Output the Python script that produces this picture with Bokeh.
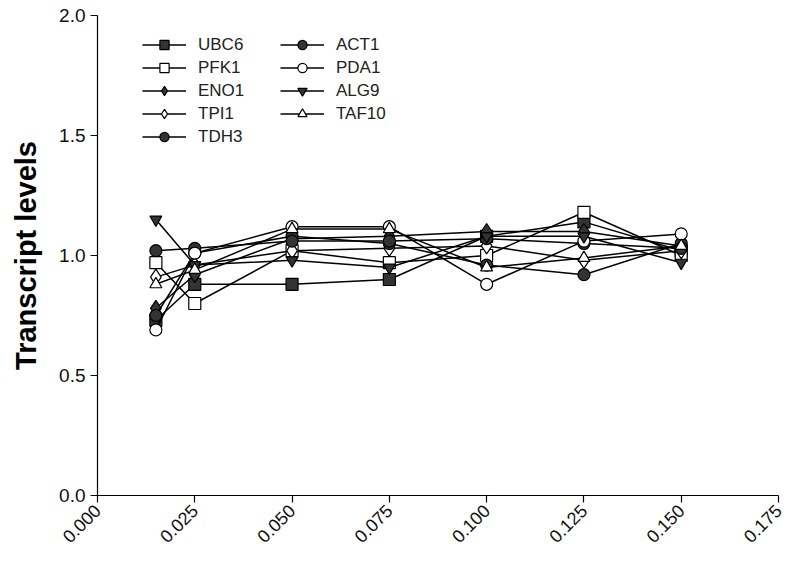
import math
from bokeh.plotting import figure
from bokeh.models import Range1d, FixedTicker, NumeralTickFormatter, Legend, LegendItem
from bokeh.embed import file_html
from bokeh.resources import INLINE

x = [0.015, 0.025, 0.05, 0.075, 0.1, 0.125, 0.15]

UBC6 = [0.73, 0.88, 0.88, 0.90, 1.08, 1.14, 1.02]
PFK1 = [0.97, 0.80, 1.02, 0.97, 1.00, 1.18, 1.00]
ENO1 = [0.78, 0.92, 1.07, 1.08, 1.10, 1.10, 1.04]
TPI1 = [0.91, 0.96, 1.02, 1.03, 1.04, 0.98, 1.02]
TDH3 = [0.75, 1.01, 1.08, 1.05, 0.96, 0.92, 1.05]
ACT1 = [1.02, 1.03, 1.06, 1.06, 1.07, 1.05, 1.03]
PDA1 = [0.69, 1.01, 1.12, 1.12, 0.88, 1.06, 1.09]
ALG9 = [1.15, 0.96, 0.98, 0.95, 1.08, 1.08, 0.97]
TAF10 = [0.88, 0.94, 1.11, 1.11, 0.95, 0.99, 1.04]

x_ticks = [0.0, 0.025, 0.05, 0.075, 0.1, 0.125, 0.15, 0.175]
y_ticks = [0.0, 0.5, 1.0, 1.5, 2.0]

series = [
    ("UBC6", UBC6, "square", True),
    ("PFK1", PFK1, "square", False),
    ("ENO1", ENO1, "diamond", True),
    ("TPI1", TPI1, "diamond", False),
    ("TDH3", TDH3, "circle", True),
    ("ACT1", ACT1, "circle", True),
    ("PDA1", PDA1, "circle", False),
    ("ALG9", ALG9, "inverted_triangle", True),
    ("TAF10", TAF10, "triangle", False),
]

FONT = "Liberation Sans"
DARK = "#333333"

p = figure(width=785, height=555, output_backend="svg", toolbar_location=None,
           x_range=Range1d(0, 0.175), y_range=Range1d(0, 2.0),
           min_border_left=97, min_border_right=7, min_border_top=15, min_border_bottom=60)
p.outline_line_color = None
p.xgrid.visible = False
p.ygrid.visible = False
p.background_fill_color = "white"

for ax in (p.xaxis[0], p.yaxis[0]):
    ax.axis_line_color = "black"
    ax.axis_line_width = 1.2
    ax.major_tick_line_color = "black"
    ax.major_tick_line_width = 1.2
    ax.major_tick_out = 7
    ax.major_tick_in = 0
    ax.minor_tick_line_color = None
    ax.major_label_text_font = FONT
    ax.major_label_text_font_size = "18px"
    ax.major_label_text_color = "#111111"

p.yaxis.major_label_text_font_size = "19px"
p.xaxis.ticker = FixedTicker(ticks=x_ticks)
p.xaxis.formatter = NumeralTickFormatter(format="0.000")
p.xaxis.major_label_orientation = math.pi / 4
p.yaxis.ticker = FixedTicker(ticks=y_ticks)
p.yaxis.formatter = NumeralTickFormatter(format="0.0")
p.yaxis.axis_label = "Transcript levels"
p.yaxis.axis_label_text_font = FONT
p.yaxis.axis_label_text_font_size = "29px"
p.yaxis.axis_label_text_font_style = "bold"
p.yaxis.axis_label_text_color = "black"
p.yaxis.axis_label_standoff = 14

items = []
for name, ys, marker, filled in series:
    ln = p.line(x, ys, line_color="black", line_width=1.5)
    sc = p.scatter(x, ys, marker=marker, size=12 if marker != "diamond" else 16,
                   fill_color=DARK if filled else "white",
                   line_color="black", line_width=1.2)
    items.append(LegendItem(label=name, renderers=[ln, sc]))

legend = Legend(items=items, location=(45, 347), nrows=5, orientation="vertical",
                background_fill_alpha=0, border_line_color=None,
                label_text_font=FONT, label_text_font_size="17px",
                label_text_color="#222222",
                glyph_width=44, glyph_height=23, spacing=0,
                label_width=82, label_standoff=12, padding=0, margin=0)
p.add_layout(legend, "center")

open("out.html", "w").write(file_html(p, INLINE))
